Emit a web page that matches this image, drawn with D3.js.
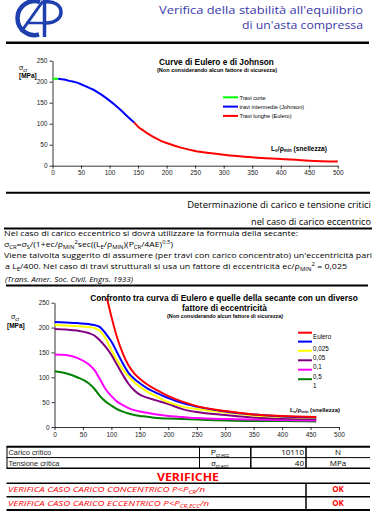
<!DOCTYPE html>
<html><head><meta charset="utf-8">
<script src="https://cdn.jsdelivr.net/npm/d3@7"></script>
<style>body{margin:0;background:#fff}svg{display:block}</style>
</head><body><svg id="c" width="380" height="513"></svg>
<script>
// ---------- Chart 1: Eulero / Johnson ----------
const shortL = [0, 10];
const shortS = [207, 207];
const johnsonL = [10, 20, 30, 40, 50, 60, 70, 80, 90, 100, 110, 120, 130, 143];
const johnsonS = [207, 205, 202, 199, 194, 188, 182, 174, 165, 155, 144, 132, 119, 103];
const eulerL = [143, 150, 160, 170, 180, 190, 200, 225, 250, 275, 300, 350, 400, 450, 500];
const eulerS = [103, 93, 83, 74, 66, 59, 54, 43, 35, 30, 26, 20, 16, 12, 10];
const legend1 = ["Travi corte", "travi intermedie (Johnson)", "Travi lunghe (Eulero)"];
const ticksX = [0, 50, 100, 150, 200, 250, 300, 350, 400, 450, 500];
const ticksY = [0, 50, 100, 150, 200, 250];

// ---------- Chart 2: secante ----------
const lambda2 = [0, 20, 40, 60, 70, 80, 90, 100, 110, 120, 130, 140, 150, 160, 180, 200, 225, 250, 300, 350, 400, 460];
const sEulero = [null, null, null, null, null, null, 270, 222, 180, 148, 124, 108, 97, 88, 74, 62, 51, 42, 32, 25, 22, 20];
const s0025 = [211, 210, 209, 207, 205, 201, 188, 172, 150, 128, 109, 97, 88, 80, 68, 58, 48, 41, 31, 25, 21, 19];
const s005 = [205, 204, 203, 201, 199, 193, 178, 155, 134, 116, 102, 90, 81, 73, 61, 50, 41, 36, 29, 23, 20, 18];
const s01 = [197, 196, 194, 189, 184, 174, 161, 145, 125, 105, 87, 74, 65, 60, 53, 46, 36, 30, 24, 19, 17, 16];
const s05 = [146, 145, 139, 126, 115, 96, 76, 62, 51, 44, 38, 34, 31, 29, 25, 22, 20, 18, 16, 15, 14, 13];
const s1 = [112, 108, 100, 88, 77, 62, 51, 43, 36, 31, 27, 24, 22, 21, 18, 17, 16, 15, 13, 12, 12, 11];
const legend2 = ["Eulero", "0,025", "0,05", "0,1", "0,5", "1"];
const colors2 = ["#ff0000", "#0000ff", "#ffff00", "#800080", "#ff00ff", "#008000"];

// ---------- Table ----------
const pcr = "10110";
const sigmaCr = "40";

const svg = d3.select('#c');
const ARIAL = "'Liberation Sans', Arial, sans-serif";
const COMIC = "'Open Sans', 'Noto Sans', sans-serif";

function build(x, y, parts, o, size) {
  const t = svg.append('text').attr('x', x).attr('y', y)
    .attr('font-family', o.family || COMIC).attr('font-size', size)
    .attr('font-weight', o.weight || 'normal').attr('font-style', o.style || 'normal')
    .attr('fill', o.fill || '#000').attr('text-anchor', o.anchor || 'start');
  parts.forEach(p => {
    const [s, k] = Array.isArray(p) ? p : [p, ''];
    const ts = t.append('tspan').text(s);
    if (k === 'sub') ts.attr('font-size', size * 0.68).attr('baseline-shift', -size * 0.22);
    if (k === 'sup') ts.attr('font-size', size * 0.68).attr('baseline-shift', size * 0.42);
  });
  return t;
}
function rich(x, y, parts, o) {
  const size = o.size || 8;
  let t = build(x, y, parts, o, size);
  if (o.len) {
    const w = t.node().getComputedTextLength();
    if (w > o.len) {
      t.remove();
      t = build(x, y, parts, o, size * o.len / w);
    } else {
      t.attr('textLength', o.len).attr('lengthAdjust', 'spacingAndGlyphs');
    }
  }
  return t;
}
function hline(x1, x2, y, w) {
  svg.append('line').attr('x1', x1).attr('x2', x2).attr('y1', y).attr('y2', y)
    .attr('stroke', '#000').attr('stroke-width', w);
}
function vline(x, y1, y2, w) {
  svg.append('line').attr('x1', x).attr('x2', x).attr('y1', y1).attr('y2', y2)
    .attr('stroke', '#000').attr('stroke-width', w);
}

// ---------- Header ----------
const logo = svg.append('g').attr('fill', 'none').attr('stroke', '#1f3fae');
logo.append('path').attr('d', 'M40,2 A17,17 0 1 0 39,34.5').attr('stroke-width', 4.5);
logo.append('path').attr('d', 'M21,32 L43,1').attr('stroke-width', 3);
logo.append('path').attr('d', 'M26,23 L44,23').attr('stroke-width', 2.5);
logo.append('path').attr('d', 'M44.5,0 L44.5,37').attr('stroke-width', 3.5);
logo.append('path').attr('d', 'M44,2 C66,-1 67,24 45,23').attr('stroke-width', 3.5);

rich(363, 14, ["Verifica della stabilità all'equilibrio"], {size: 11, fill: '#3a3aa8', anchor: 'end', len: 204});
rich(363, 29, ["di un'asta compressa"], {size: 11, fill: '#3a3aa8', anchor: 'end', len: 121});
hline(6, 369, 42.7, 2.5);

// ---------- Chart 1 ----------
const x1 = d3.scaleLinear([0, 500], [52.5, 337.8]);
const y1 = d3.scaleLinear([0, 250], [165.7, 60.7]);
function styleAxis(g) {
  g.selectAll('path.domain').attr('stroke', '#000').attr('stroke-width', 0.8);
  g.selectAll('.tick line').attr('stroke', '#000').attr('stroke-width', 0.8);
  g.selectAll('.tick text').attr('font-family', ARIAL).attr('font-size', 6.5).attr('fill', '#222');
}
svg.append('g').attr('transform', `translate(0,${y1(0)})`)
  .call(d3.axisBottom(x1).tickValues(ticksX).tickSize(3).tickSizeOuter(0).tickPadding(2)).call(styleAxis);
svg.append('g').attr('transform', `translate(${x1(0)},0)`)
  .call(d3.axisLeft(y1).tickValues(ticksY).tickSize(3).tickSizeOuter(0).tickPadding(2)).call(styleAxis);

const line1 = d3.line().x(d => x1(d[0])).y(d => y1(d[1])).curve(d3.curveMonotoneX);
const series1 = [
  [shortL, shortS, '#00ff00'],
  [johnsonL, johnsonS, '#0000ff'],
  [eulerL, eulerS, '#ff0000']
];
series1.forEach(([L, S, c]) => {
  svg.append('path').attr('d', line1(L.map((l, i) => [l, S[i]])))
    .attr('fill', 'none').attr('stroke', c).attr('stroke-width', 2);
});
legend1.forEach((t, i) => {
  const y = 97.3 + i * 9.3;
  svg.append('line').attr('x1', 223).attr('x2', 238).attr('y1', y).attr('y2', y)
    .attr('stroke', series1[i][2]).attr('stroke-width', 2);
  rich(239.5, y + 2.3, [t], {size: 5.6, family: ARIAL});
});
rich(216.5, 64.5, ["Curve di Eulero e di Johnson"], {size: 9.5, weight: 'bold', family: ARIAL, anchor: 'middle', len: 115});
rich(217, 72.2, ["(Non considerando alcun fattore di sicurezza)"], {size: 5.2, weight: 'bold', family: ARIAL, anchor: 'middle', len: 120});
rich(19, 70, ["σ", ["cr", 'sub']], {size: 7, family: ARIAL});
rich(19, 77.5, ["[MPa]"], {size: 6.5, weight: 'bold', family: ARIAL});
rich(271, 150.5, ["L", ["o", 'sub'], "/ρ", ["min", 'sub'], " (snellezza)"], {size: 7, weight: 'bold', family: ARIAL, len: 56});

// ---------- Section ----------
hline(6, 370, 192.7, 2);
rich(371, 208, ["Determinazione di carico e tensione critici"], {size: 10.5, anchor: 'end', len: 184});
rich(371, 225, ["nel caso di carico eccentrico"], {size: 10.5, anchor: 'end', len: 120});
hline(4, 372, 228.5, 2);
rich(4, 236, ["Nel caso di carico eccentrico si dovrà utilizzare la formula della secante:"], {size: 7.6, len: 294});
rich(4, 247, ["σ", ["CR", 'sub'], "=σ", ["S", 'sub'], "/(1+ec/ρ", ["MIN", 'sub'], ["2", 'sup'], "sec((L", ["E", 'sub'], "/ρ", ["MIN", 'sub'], ")(P", ["CR", 'sub'], "/4AE)", ["0.5", 'sup'], ")"], {size: 7.6, len: 169});
rich(4, 257.5, ["Viene talvolta suggerito di assumere (per travi con carico concentrato) un'eccentricità pari"], {size: 7.6, len: 368});
rich(5, 268.5, ["a L", ["E", 'sub'], "/400. Nel caso di travi strutturali si usa un fattore di eccentricità ec/ρ", ["MIN", 'sub'], ["2", 'sup'], " = 0,025"], {size: 7.6, len: 342});
rich(5, 282, ["(Trans. Amer. Soc. Civil. Engrs. 1933)"], {size: 7.6, style: 'italic', len: 128});
hline(6, 368, 285.5, 2);

// ---------- Chart 2 ----------
const x2 = d3.scaleLinear([0, 500], [54.5, 339]);
const y2 = d3.scaleLinear([0, 250], [427, 302.7]);
svg.append('defs').append('clipPath').attr('id', 'pa').append('rect')
  .attr('x', x2(0)).attr('y', 298).attr('width', x2(500) - x2(0)).attr('height', y2(0) - 298);
svg.append('g').attr('transform', `translate(0,${y2(0)})`)
  .call(d3.axisBottom(x2).tickValues(ticksX).tickSize(3).tickSizeOuter(0).tickPadding(2)).call(styleAxis);
svg.append('g').attr('transform', `translate(${x2(0)},0)`)
  .call(d3.axisLeft(y2).tickValues(ticksY).tickSize(3).tickSizeOuter(0).tickPadding(2)).call(styleAxis);

const series2 = [sEulero, s0025, s005, s01, s05, s1];
const line2 = d3.line().defined(d => d[1] != null).x(d => x2(d[0])).y(d => y2(d[1])).curve(d3.curveMonotoneX);
const gl = svg.append('g').attr('clip-path', 'url(#pa)');
series2.slice().reverse().forEach((S, ri) => {
  const i = series2.length - 1 - ri;
  gl.append('path').attr('d', line2(lambda2.map((l, j) => [l, S[j]])))
    .attr('fill', 'none').attr('stroke', colors2[i]).attr('stroke-width', 2);
});
const legY = [332.7, 341.6, 350.8, 360.3, 369.7, 379.2];
legend2.forEach((t, i) => {
  svg.append('line').attr('x1', 298).attr('x2', 312).attr('y1', legY[i]).attr('y2', legY[i])
    .attr('stroke', colors2[i]).attr('stroke-width', 2);
  rich(313, legY[i] + (i === 0 ? 6 : 9), [t], {size: 6.3, family: ARIAL});
});
rich(224, 301, ["Confronto tra curva di Eulero e quelle della secante con un diverso"], {size: 9.5, weight: 'bold', family: ARIAL, anchor: 'middle', len: 268});
rich(224.5, 311, ["fattore di eccentricità"], {size: 9.5, weight: 'bold', family: ARIAL, anchor: 'middle', len: 85});
rich(225, 318.3, ["(Non considerando alcun fattore di sicurezza)"], {size: 5.2, weight: 'bold', family: ARIAL, anchor: 'middle', len: 116});
rich(11, 318.5, ["σ", ["cr", 'sub']], {size: 7, family: ARIAL});
rich(7, 328.3, ["[MPa]"], {size: 6.5, weight: 'bold', family: ARIAL});
rich(290, 411.5, ["L", ["o", 'sub'], "/ρ", ["min", 'sub'], " (snellezza)"], {size: 7, weight: 'bold', family: ARIAL, len: 50});

// ---------- Table ----------
hline(6.5, 370, 446.7, 2);
hline(6.5, 370, 457.6, 1);
hline(6.5, 370, 468.3, 1.5);
vline(7, 446.7, 468.3, 1);
vline(199.5, 446.7, 468.3, 1);
vline(250.8, 446.7, 468.3, 1.5);
vline(306, 446.7, 468.3, 1.5);
rich(8.5, 454.5, ["Carico critico"], {size: 7.4, family: ARIAL, fill: '#222'});
rich(8.5, 465.5, ["Tensione critica"], {size: 7.4, family: ARIAL, fill: '#222'});
rich(220, 454.5, ["P", ["cr,ecc", 'sub']], {size: 7.4, family: ARIAL, anchor: 'middle'});
rich(220, 465.5, ["σ", ["cr,ecc", 'sub']], {size: 7.4, family: ARIAL, anchor: 'middle'});
rich(304, 455, [pcr], {size: 8, anchor: 'end'});
rich(304, 466, [sigmaCr], {size: 8, anchor: 'end'});
rich(338, 455, ["N"], {size: 8, anchor: 'middle'});
rich(338, 466, ["MPa"], {size: 8, anchor: 'middle'});

rich(188, 480.8, ["VERIFICHE"], {size: 11, weight: 'bold', fill: '#ff0000', anchor: 'middle', len: 62});
hline(6.5, 370, 483.3, 1.5);
hline(6.5, 370, 496.7, 1.5);
hline(6.5, 370, 510, 2);
vline(306, 483.3, 510, 1.5);
rich(8, 491.5, ["VERIFICA CASO CARICO CONCENTRICO P<P", ["CR", 'sub'], "/n"], {size: 7.6, style: 'italic', fill: '#ff0000', len: 197});
rich(8, 506, ["VERIFICA CASO CARICO ECCENTRICO P<P", ["CR,ECC", 'sub'], "/n"], {size: 7.6, style: 'italic', fill: '#ff0000', len: 201});
rich(338, 491.5, ["OK"], {size: 8, weight: 'bold', fill: '#ff0000', anchor: 'middle'});
rich(338, 506, ["OK"], {size: 8, weight: 'bold', fill: '#ff0000', anchor: 'middle'});
</script></body></html>
